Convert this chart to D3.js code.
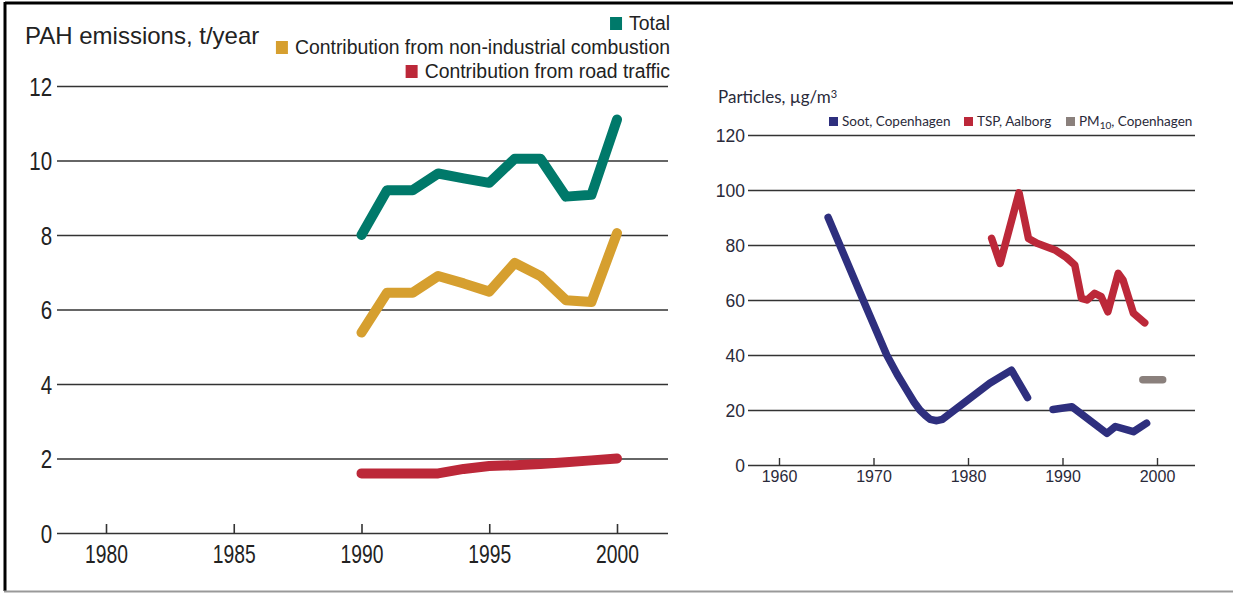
<!DOCTYPE html>
<html>
<head>
<meta charset="utf-8">
<script src="https://cdn.jsdelivr.net/npm/d3@7/dist/d3.min.js"></script>
<style>
  html, body { margin: 0; padding: 0; background: #fff; }
  svg { display: block; }
  .narrow { font-family: "Liberation Sans", Arial, sans-serif; }
  .humanist { font-family: "Lato", "Open Sans", sans-serif; }
</style>
</head>
<body>
<svg id="chart" width="1233" height="594"></svg>
<script>
// ---- PAH emissions (t/year) ----
const pahYears = [1990, 1991, 1992, 1993, 1994, 1995, 1996, 1997, 1998, 1999, 2000];
const pahTotal = [8.0, 9.2, 9.2, 9.65, 9.52, 9.4, 10.05, 10.05, 9.03, 9.08, 11.1];
const pahCombustion = [5.38, 6.45, 6.45, 6.9, 6.7, 6.48, 7.25, 6.9, 6.25, 6.2, 8.05];
const pahRoad = [1.6, 1.6, 1.6, 1.6, 1.72, 1.8, 1.82, 1.85, 1.9, 1.95, 2.0];
const pahTickYears = [1980, 1985, 1990, 1995, 2000];
const pahTickValues = [0, 2, 4, 6, 8, 10, 12];
const pahLegend = ["Total", "Contribution from non-industrial combustion", "Contribution from road traffic"];

// ---- Particles (µg/m³) ----
const sootYears1 = [1965.2, 1968.9, 1971.4, 1972.5, 1973.5, 1974.3, 1974.9, 1975.5, 1976.0, 1976.7, 1977.3, 1982.3, 1984.6, 1986.3];
const sootValues1 = [90, 60, 40, 33, 27.3, 22.8, 20, 18, 16.6, 16.1, 16.6, 29.7, 34.5, 24.5];
const sootYears2 = [1989.0, 1991.0, 1994.7, 1995.6, 1997.5, 1998.9];
const sootValues2 = [20.2, 21.2, 11.5, 14, 12.1, 15.2];
const tspYears = [1982.5, 1983.4, 1985.4, 1986.4, 1987.3, 1989.2, 1990.4, 1991.3, 1992.0, 1992.6, 1993.4, 1994.1, 1994.8, 1995.9, 1996.4, 1997.5, 1998.7];
const tspValues = [82.4, 73.3, 99, 82.4, 80.6, 78.2, 75.5, 72.7, 60.6, 60, 62.4, 61.2, 55.7, 69.7, 67.3, 55.2, 51.7];
const pm10Years = [1998.5, 2000.6];
const pm10Values = [31, 31];
const partTickYears = [1960, 1970, 1980, 1990, 2000];
const partTickValues = [0, 20, 40, 60, 80, 100, 120];

const colors = {
  total: "#00796a",
  combustion: "#d69f2f",
  road: "#bc2839",
  soot: "#2e2f7e",
  tsp: "#bc2839",
  pm10: "#8a807c"
};

const svg = d3.select("#chart");

// Frame
svg.append("line").attr("x1", 5).attr("x2", 1233).attr("y1", 3).attr("y2", 3)
  .attr("stroke", "#000").attr("stroke-width", 3);
svg.append("line").attr("x1", 5).attr("x2", 5).attr("y1", 2).attr("y2", 591)
  .attr("stroke", "#000").attr("stroke-width", 3);
svg.append("line").attr("x1", 4).attr("x2", 1233).attr("y1", 591.5).attr("y2", 591.5)
  .attr("stroke", "#999").attr("stroke-width", 2);

function pairs(xs, ys) { return xs.map((x, i) => [x, ys[i]]); }

// ================= Left panel: PAH emissions =================
{
  const x = d3.scaleLinear().domain([1980, 2000]).range([106, 617]);
  const y = d3.scaleLinear().domain([0, 12]).range([533, 86]);
  const left = 57, right = 668;
  const g = svg.append("g").attr("class", "narrow");

  // horizontal gridlines with value labels (condensed digits)
  const yAxis = d3.axisLeft(y).tickValues(pahTickValues).tickSize(-(right - left)).tickPadding(6);
  const ya = g.append("g").attr("transform", `translate(${left},0)`).call(yAxis);
  ya.select(".domain").remove();
  ya.selectAll(".tick line").attr("stroke", "#333").attr("stroke-width", 1.6);
  ya.selectAll(".tick text").attr("font-size", 25).attr("fill", "#222")
    .attr("font-family", "inherit").attr("dy", "0.36em").attr("transform", "scale(0.82,1)");

  // year ticks pointing up from the baseline
  const xAxis = d3.axisBottom(x).tickValues(pahTickYears).tickFormat(d3.format("d"))
    .tickSize(-9).tickPadding(12);
  const xa = g.append("g").attr("transform", `translate(0,${y(0)})`).call(xAxis);
  xa.select(".domain").remove();
  xa.selectAll(".tick line").attr("stroke", "#333").attr("stroke-width", 1.6);
  xa.selectAll(".tick text").attr("font-size", 25).attr("fill", "#222")
    .attr("font-family", "inherit").attr("dy", "0.71em").attr("transform", "scale(0.77,1)");

  const line = d3.line().x(d => x(d[0])).y(d => y(d[1]));
  const series = [
    [pahRoad, colors.road],
    [pahCombustion, colors.combustion],
    [pahTotal, colors.total]
  ];
  series.forEach(([vals, c]) => {
    g.append("path").datum(pairs(pahYears, vals)).attr("d", line)
      .attr("fill", "none").attr("stroke", c).attr("stroke-width", 10)
      .attr("stroke-linecap", "round").attr("stroke-linejoin", "round");
  });

  // title
  g.append("text").attr("x", 25).attr("y", 44).attr("font-size", 24).attr("fill", "#222")
    .text("PAH emissions, t/year");

  // legend, right aligned
  const legendColors = [colors.total, colors.combustion, colors.road];
  pahLegend.forEach((label, i) => {
    const by = 30 + i * 24;
    const t = g.append("text").attr("x", right + 2).attr("y", by).attr("text-anchor", "end")
      .attr("font-size", 19.4).attr("fill", "#222").text(label);
    const w = t.node().getComputedTextLength();
    g.append("rect").attr("x", right + 2 - w - 19).attr("y", by - 13)
      .attr("width", 12).attr("height", 13).attr("fill", legendColors[i]);
  });
}

// ================= Right panel: Particles =================
{
  const x = d3.scaleLinear().domain([1960, 2000]).range([779, 1157]);
  const y = d3.scaleLinear().domain([0, 120]).range([465, 135]);
  const left = 748, right = 1195;
  const g = svg.append("g").attr("class", "humanist");

  const yAxis = d3.axisLeft(y).tickValues(partTickValues).tickSize(-(right - left)).tickPadding(3);
  const ya = g.append("g").attr("transform", `translate(${left},0)`).call(yAxis);
  ya.select(".domain").remove();
  ya.selectAll(".tick line").attr("stroke", "#333").attr("stroke-width", 1.4);
  ya.selectAll(".tick text").attr("font-size", 17.5).attr("fill", "#2a2a3a")
    .attr("font-family", "inherit").attr("dy", "0.36em");

  const xAxis = d3.axisBottom(x).tickValues(partTickYears).tickFormat(d3.format("d"))
    .tickSize(-7).tickPadding(6);
  const xa = g.append("g").attr("transform", `translate(0,${y(0)})`).call(xAxis);
  xa.select(".domain").remove();
  xa.selectAll(".tick line").attr("stroke", "#333").attr("stroke-width", 1.4);
  xa.selectAll(".tick text").attr("font-size", 16).attr("fill", "#2a2a3a")
    .attr("font-family", "inherit").attr("dy", "0.71em");

  const line = d3.line().x(d => x(d[0])).y(d => y(d[1]));
  const series = [
    [pairs(sootYears1, sootValues1), colors.soot],
    [pairs(sootYears2, sootValues2), colors.soot],
    [pairs(tspYears, tspValues), colors.tsp],
    [pairs(pm10Years, pm10Values), colors.pm10]
  ];
  series.forEach(([pts, c]) => {
    g.append("path").datum(pts).attr("d", line)
      .attr("fill", "none").attr("stroke", c).attr("stroke-width", 7.5)
      .attr("stroke-linecap", "round").attr("stroke-linejoin", "round");
  });

  // title
  const title = g.append("text").attr("x", 718).attr("y", 103).attr("font-size", 17).attr("fill", "#2a2a3a");
  title.append("tspan").text("Particles, µg/m");
  title.append("tspan").attr("font-size", 11).attr("dy", -5).text("3");

  // legend row
  const items = [
    { label: "Soot, Copenhagen", color: colors.soot, x: 829 },
    { label: "TSP, Aalborg", color: colors.tsp, x: 964 },
    { label: "PM", sub: "10", rest: ", Copenhagen", color: colors.pm10, x: 1066 }
  ];
  items.forEach(it => {
    g.append("rect").attr("x", it.x).attr("y", 117).attr("width", 9).attr("height", 9).attr("fill", it.color);
    const t = g.append("text").attr("x", it.x + 13).attr("y", 126).attr("font-size", 13.5).attr("fill", "#2a2a3a");
    t.append("tspan").text(it.label);
    if (it.sub) {
      t.append("tspan").attr("font-size", 10).attr("dy", 3).text(it.sub);
      t.append("tspan").attr("dy", -3).text(it.rest);
    }
  });
}
</script>
</body>
</html>
